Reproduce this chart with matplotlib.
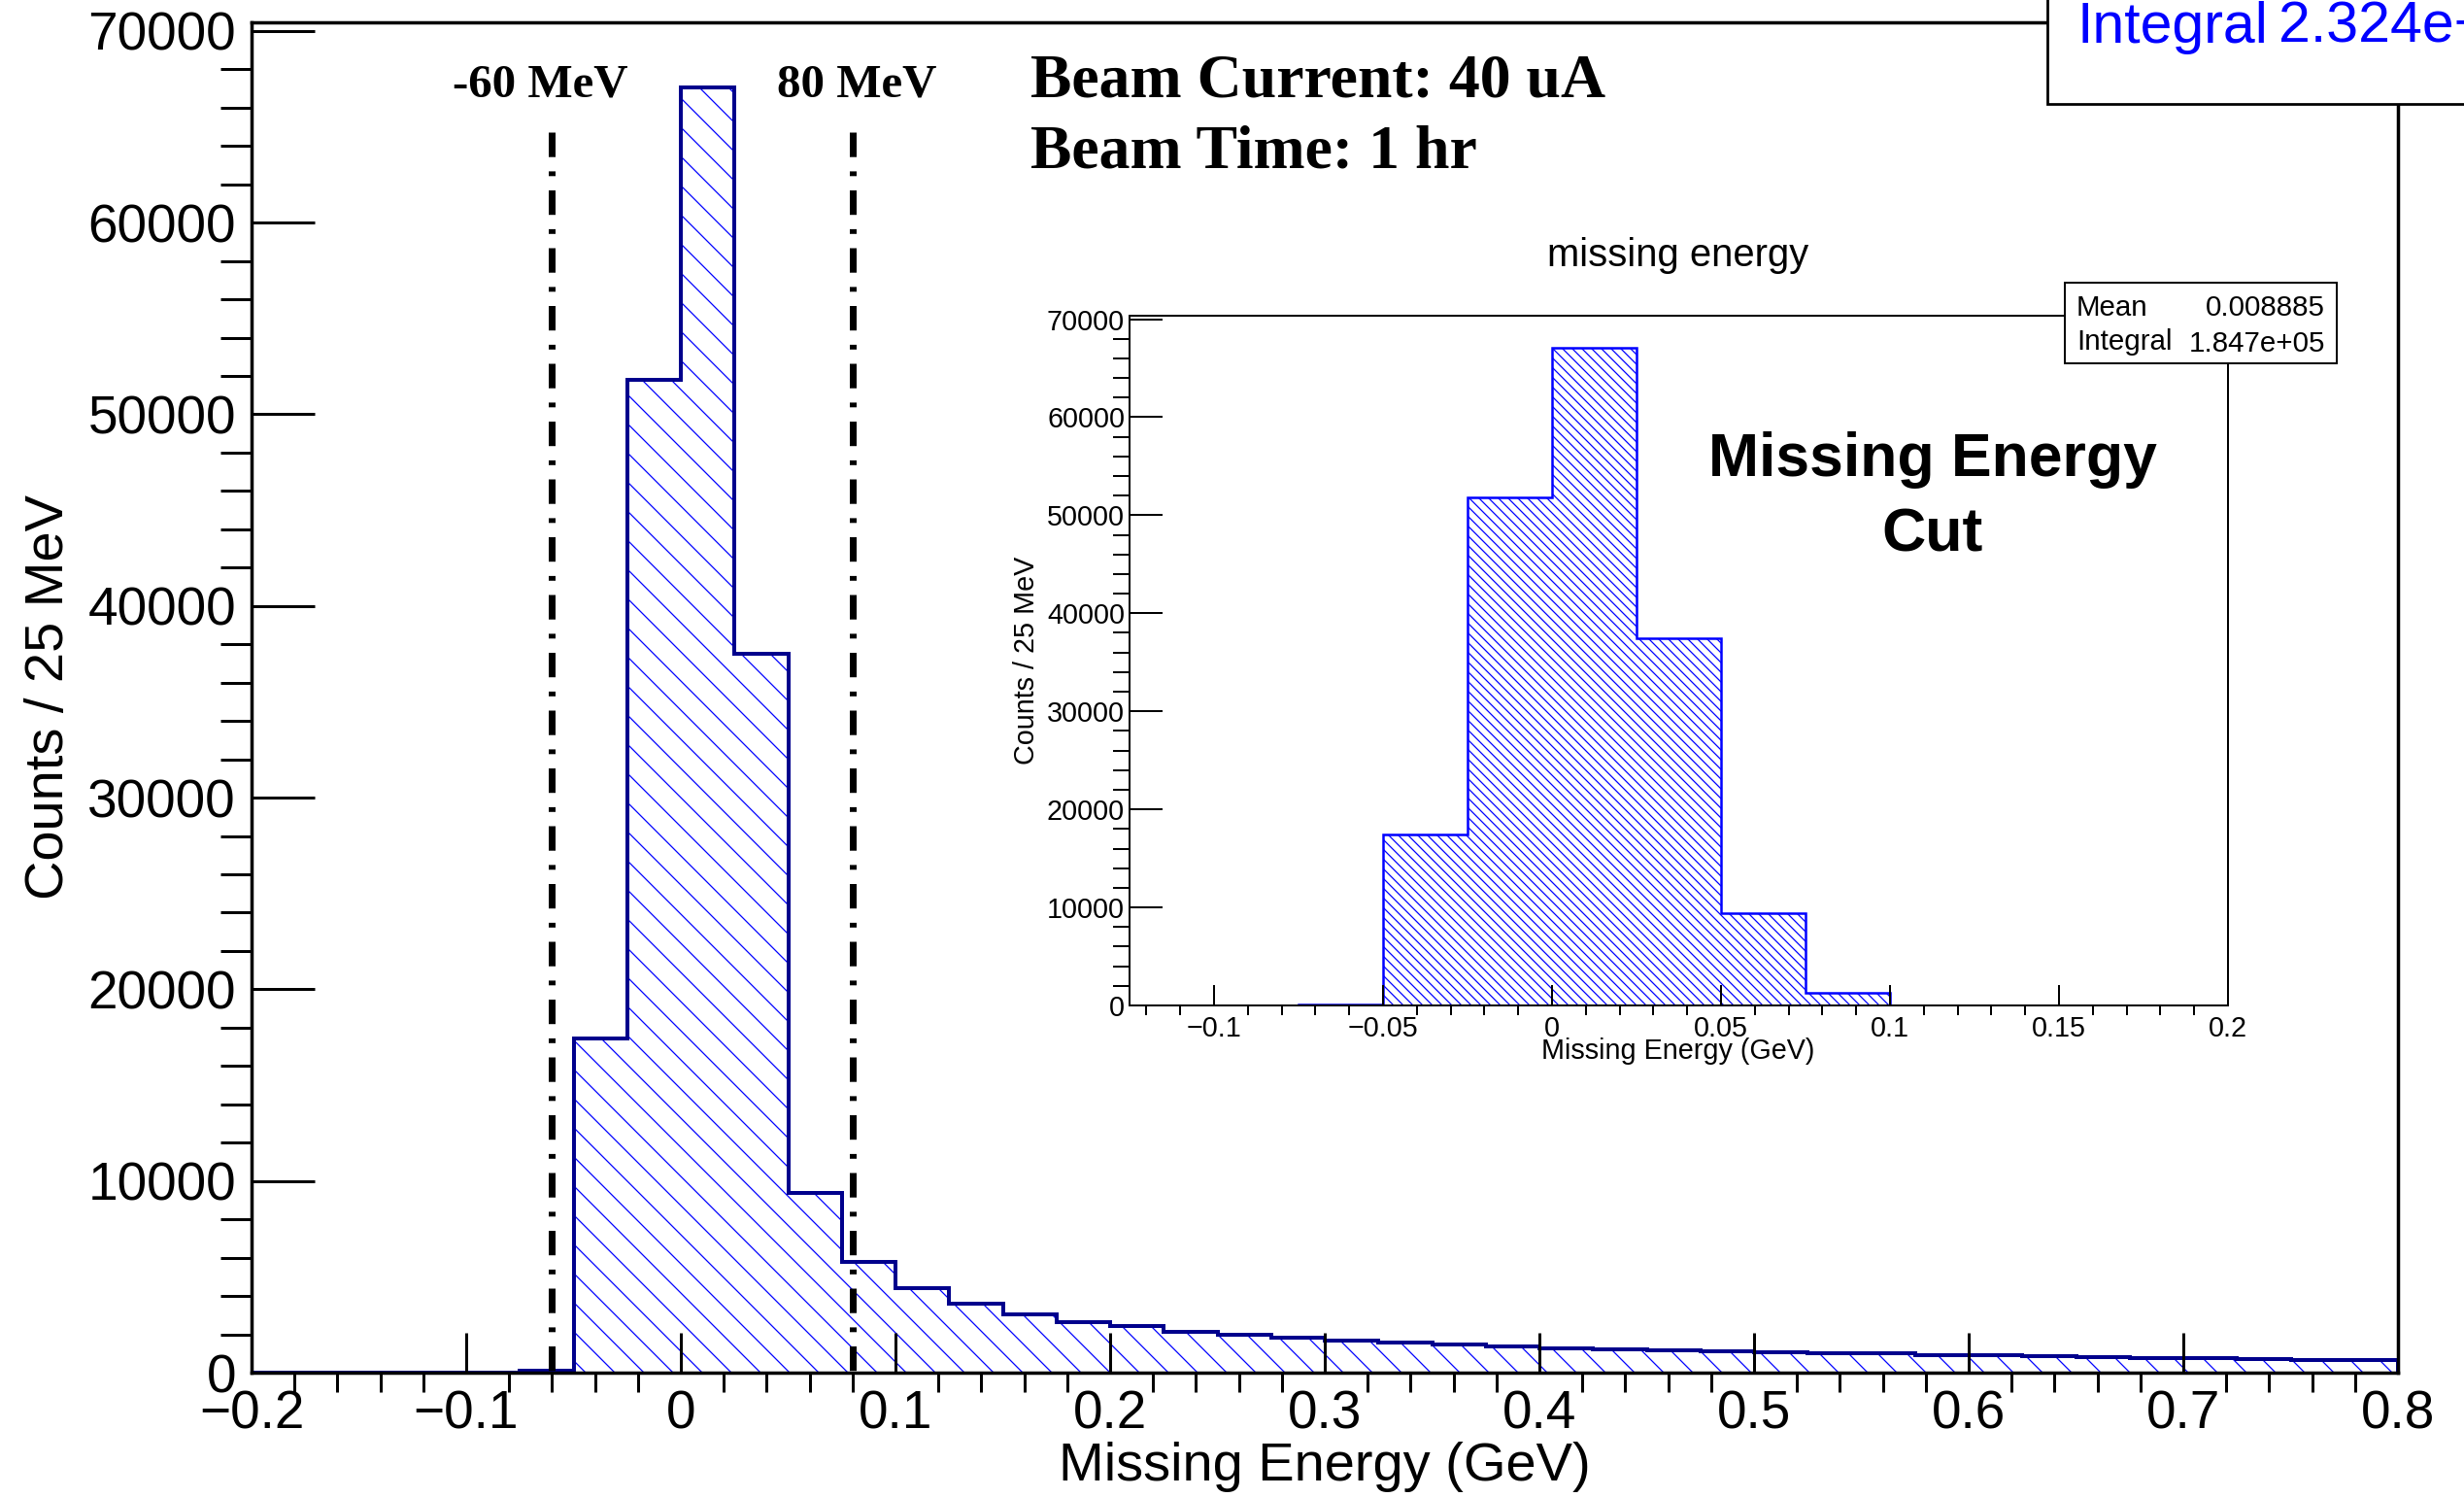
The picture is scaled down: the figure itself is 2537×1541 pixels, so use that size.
import numpy as np
import matplotlib
matplotlib.use("Agg")
import matplotlib.pyplot as plt
from matplotlib.patches import Rectangle
from matplotlib.ticker import FixedLocator, FixedFormatter, MultipleLocator

W, H, DPI = 2537, 1541, 180

# --- data: 25 MeV bins ---
main_edges = np.linspace(-0.2, 0.8, 41)
main_counts = [0, 0, 0, 0, 0, 120,
               17450, 51800, 67050, 37500, 9400, 5800,
               4400, 3620, 3050, 2660, 2420, 2130, 2000, 1800,
               1680, 1570, 1480, 1370, 1280, 1230, 1190, 1110,
               1060, 1020, 990, 920, 890, 840, 820, 780,
               760, 720, 680, 650]

inset_edges = np.linspace(-0.125, 0.2, 14)
inset_counts = [0, 0, 120, 17450, 51800, 67050, 37500, 9400, 1280, 0, 0, 0, 0]

cut_positions = [-0.06, 0.08]
cut_labels = ["-60 MeV", "80 MeV"]
cut_line_top = 64700

main_xticks = [-0.2, -0.1, 0, 0.1, 0.2, 0.3, 0.4, 0.5, 0.6, 0.7, 0.8]
main_xticklabels = ["\u22120.2", "\u22120.1", "0", "0.1", "0.2", "0.3",
                    "0.4", "0.5", "0.6", "0.7", "0.8"]
main_yticks = [0, 10000, 20000, 30000, 40000, 50000, 60000, 70000]
main_yticklabels = ["0", "10000", "20000", "30000", "40000", "50000", "60000", "70000"]

inset_xticks = [-0.1, -0.05, 0, 0.05, 0.1, 0.15, 0.2]
inset_xticklabels = ["\u22120.1", "\u22120.05", "0", "0.05", "0.1", "0.15", "0.2"]

plt.rcParams["font.family"] = ["Liberation Sans", "DejaVu Sans"]
plt.rcParams["hatch.linewidth"] = 0.5


def fx(x):
    return x / W


def fy(y):
    return 1 - y / H


def box(left, top, right, bottom):
    return [fx(left), fy(bottom), (right - left) / W, (bottom - top) / H]


fig = plt.figure(figsize=(W / DPI, H / DPI), dpi=DPI)

# ---- main plot ----
ax = fig.add_axes(box(259, 23, 2469, 1413))
ax.stairs(main_counts, main_edges, fill=True, facecolor="none",
          edgecolor="#0000ff", hatch="\\\\", linewidth=0)
ax.stairs(main_counts, main_edges, color="#00008c", linewidth=1.6)
for xc in cut_positions:
    ax.plot([xc, xc], [cut_line_top, 0], color="black", lw=2.8,
            linestyle=(0, (3.6, 2.1, 0.7, 2.1)))
ax.set_xlim(-0.2, 0.8)
ax.set_ylim(0, 70450)
ax.xaxis.set_major_locator(FixedLocator(main_xticks))
ax.xaxis.set_major_formatter(FixedFormatter(main_xticklabels))
ax.xaxis.set_minor_locator(MultipleLocator(0.02))
ax.yaxis.set_major_locator(FixedLocator(main_yticks))
ax.yaxis.set_major_formatter(FixedFormatter(main_yticklabels))
ax.yaxis.set_minor_locator(MultipleLocator(2000))
ax.tick_params(direction="in", labelsize=22, width=1.2, colors="black")
ax.tick_params(axis="x", which="major", length=16.4, pad=6.8)
ax.tick_params(axis="x", which="minor", length=8, width=1.2)
ax.tick_params(axis="y", which="major", length=26, pad=6.4)
ax.tick_params(axis="y", which="minor", length=12.8, width=1.2)
for s in ax.spines.values():
    s.set_linewidth(1.4)

fig.text(fx(1364), fy(1524), "Missing Energy (GeV)", fontsize=22.4,
         ha="center", va="baseline")
fig.text(fx(65), fy(718), "Counts / 25 MeV", fontsize=22.4, rotation=90,
         rotation_mode="anchor", ha="center", va="baseline")

serif = ["Liberation Serif", "DejaVu Serif"]
for xc, lab in zip(cut_positions, cut_labels):
    xp = 259 + (xc + 0.2) / 1.0 * 2210
    fig.text(fx(xp - 12 if xc < 0 else xp + 4), fy(100), lab, family=serif,
             weight="bold", fontsize=19.6, ha="center", va="baseline")
fig.text(fx(1061), fy(100), "Beam Current: 40 uA", family=serif,
         weight="bold", fontsize=25.5, ha="left", va="baseline")
fig.text(fx(1061), fy(172), "Beam Time: 1 hr", family=serif,
         weight="bold", fontsize=25.5, ha="left", va="baseline")

# stats box of the main histogram (runs off the canvas)
fig.add_artist(Rectangle((fx(2108), fy(107)), 1, 1, transform=fig.transFigure,
                         facecolor="white", edgecolor="black", lw=1.1,
                         clip_on=False, zorder=10))
fig.text(fx(2138), fy(44), "Integral", color="#0000ff", fontsize=23.6,
         ha="left", va="baseline", zorder=11)
fig.text(fx(2346), fy(44), "2.324e+05", color="#0000ff", fontsize=23.6,
         ha="left", va="baseline", zorder=11)

# ---- inset: after the cut ----
ins = fig.add_axes(box(1163, 325, 2294, 1035))
ins.stairs(inset_counts, inset_edges, fill=True, facecolor="none",
           edgecolor="#0000ff", hatch="\\\\\\\\\\\\", linewidth=0)
ins.stairs(inset_counts, inset_edges, color="#0000ff", linewidth=1.0)
ins.set_xlim(-0.125, 0.2)
ins.set_ylim(0, 70350)
ins.xaxis.set_major_locator(FixedLocator(inset_xticks))
ins.xaxis.set_major_formatter(FixedFormatter(inset_xticklabels))
ins.xaxis.set_minor_locator(MultipleLocator(0.01))
ins.yaxis.set_major_locator(FixedLocator(main_yticks))
ins.yaxis.set_major_formatter(FixedFormatter(main_yticklabels))
ins.yaxis.set_minor_locator(MultipleLocator(2000))
ins.tick_params(direction="in", labelsize=11.5, width=0.8)
ins.tick_params(axis="x", which="major", length=8.4, pad=4)
ins.tick_params(axis="x", which="minor", length=4, width=0.8)
ins.tick_params(axis="y", which="major", length=13.6, pad=2)
ins.tick_params(axis="y", which="minor", length=6.8, width=0.8)
for s in ins.spines.values():
    s.set_linewidth(0.8)

fig.text(fx(1728), fy(274), "missing energy", fontsize=16,
         ha="center", va="baseline")
fig.text(fx(1728), fy(1090), "Missing Energy (GeV)", fontsize=11.5,
         ha="center", va="baseline")
fig.text(fx(1065), fy(680), "Counts / 25 MeV", fontsize=11.5, rotation=90,
         rotation_mode="anchor", ha="center", va="baseline")
fig.text(fx(1990), fy(490), "Missing Energy", fontsize=25, weight="bold",
         ha="center", va="baseline")
fig.text(fx(1990), fy(567), "Cut", fontsize=25, weight="bold",
         ha="center", va="baseline")

fig.add_artist(Rectangle((fx(2126), fy(374)), 280 / W, 83 / H,
                         transform=fig.transFigure, facecolor="white",
                         edgecolor="black", lw=0.8, zorder=10))
fig.text(fx(2138), fy(325), "Mean", fontsize=11.8, ha="left",
         va="baseline", zorder=11)
fig.text(fx(2394), fy(325), "0.008885", fontsize=11.8, ha="right",
         va="baseline", zorder=11)
fig.text(fx(2138), fy(360), "Integral", fontsize=11.8, ha="left",
         va="baseline", zorder=11)
fig.text(fx(2394), fy(362), "1.847e+05", fontsize=11.8, ha="right",
         va="baseline", zorder=11)

fig.savefig("out.png", dpi=DPI)
